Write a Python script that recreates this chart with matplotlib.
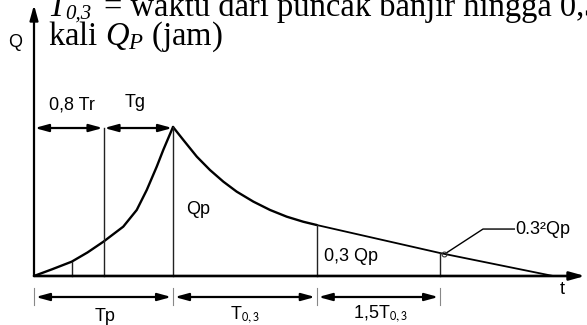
import matplotlib
matplotlib.use("Agg")
import matplotlib.pyplot as plt

# ---- data (Tp = 1, Qp = 1 units) ----
rise_t = [0.0, 0.13, 0.271, 0.385, 0.499, 0.642, 0.739, 0.811, 0.883, 0.930, 1.0]
rise_q = [0.0, 0.045, 0.096, 0.158, 0.230, 0.331, 0.443, 0.577, 0.734, 0.846, 1.0]

decay_t = [1.0, 1.074, 1.171, 1.266, 1.362, 1.458, 1.578, 1.698, 1.818, 1.937, 2.034]
decay_q = [1.0, 0.913, 0.801, 0.711, 0.633, 0.566, 0.499, 0.443, 0.398, 0.364, 0.342]

recess_t = [2.034, 2.921, 3.734]
recess_q = [0.342, 0.154, 0.0]

vert_t = [0.271, 0.5, 1.0, 2.034, 2.921]
vert_top = [0.096, 0.993, 1.0, 0.342, 0.154]

top_bounds = [0.0, 0.5, 1.0]
top_labels = ["0,8 Tr", "Tg"]
bot_bounds = [0.0, 1.0, 2.034, 2.921]
bot_labels = ["Tp", "T$_{0,3}$", "1,5T$_{0,3}$"]

plt.rcParams["mathtext.fontset"] = "custom"
plt.rcParams["mathtext.rm"] = "Liberation Serif"
plt.rcParams["mathtext.it"] = "Liberation Serif:italic"

fig = plt.figure(figsize=(5.87, 3.25), dpi=100)
ax = fig.add_axes([0, 0, 1, 1])
ax.set_xlim(-0.2446, 3.978)
ax.set_ylim(-0.3289, 1.852)
ax.axis("off")

sans = "Liberation Sans"
serif = "Liberation Serif"
lab_fs = 13

# hydrograph
ax.plot(rise_t, rise_q, color="black", lw=1.7, solid_capstyle="round")
ax.plot(decay_t, decay_q, color="black", lw=1.7, solid_capstyle="round")
ax.plot(recess_t, recess_q, color="black", lw=1.3)

# verticals
for t, q in zip(vert_t, vert_top):
    ax.plot([t, t], [0, q], color="#222222", lw=1.0)

# axes arrows
ax.annotate("", xy=(0, 1.819), xytext=(0, 0),
            arrowprops=dict(arrowstyle="-|>,head_length=0.9,head_width=0.25",
                            color="black", lw=1.6, shrinkA=0, shrinkB=0))
ax.annotate("", xy=(3.964, 0), xytext=(0, 0),
            arrowprops=dict(arrowstyle="-|>,head_length=0.9,head_width=0.25",
                            color="black", lw=1.9, shrinkA=0, shrinkB=0))

# top dimension arrows
y_top = 0.993
for a, b in zip(top_bounds[:-1], top_bounds[1:]):
    ax.annotate("", xy=(b - 0.005, y_top), xytext=(a + 0.005, y_top),
                arrowprops=dict(arrowstyle="<|-|>,head_length=0.8,head_width=0.22",
                                color="black", lw=1.6, shrinkA=0, shrinkB=0))
ax.text(0.273, 1.148, top_labels[0], fontsize=lab_fs, family=sans, ha="center", va="center")
ax.text(0.727, 1.163, top_labels[1], fontsize=lab_fs, family=sans, ha="center", va="center")

# bottom dimension arrows
y_bot = -0.141
for t in bot_bounds:
    ax.plot([t, t], [-0.08, -0.195], color="#888888", lw=0.8)
for a, b in zip(bot_bounds[:-1], bot_bounds[1:]):
    ax.annotate("", xy=(b - 0.012, y_bot), xytext=(a + 0.012, y_bot),
                arrowprops=dict(arrowstyle="<|-|>,head_length=0.8,head_width=0.22",
                                color="black", lw=1.6, shrinkA=0, shrinkB=0))
ax.text(0.511, -0.27, bot_labels[0], fontsize=lab_fs, family=sans, ha="center", va="center")
ax.text(1.518, -0.262, bot_labels[1], fontsize=lab_fs, family=sans, ha="center", va="center",
        math_fontfamily="stixsans")
ax.text(2.489, -0.255, bot_labels[2], fontsize=lab_fs, family=sans, ha="center", va="center",
        math_fontfamily="stixsans")

# curve labels
ax.text(1.18, 0.443, "Qp", fontsize=lab_fs, family=sans, ha="center", va="center")
ax.text(2.28, 0.128, "0,3 Qp", fontsize=lab_fs, family=sans, ha="center", va="center")
ax.plot([2.965, 3.230, 3.455], [0.154, 0.315, 0.315], color="black", lw=1.0)
ax.plot([2.95], [0.148], marker="o", ms=3.5, mfc="none", mec="#333333", mew=0.8)
ax.text(3.46, 0.315, "0.3²Qp", fontsize=lab_fs, family=sans, ha="left", va="center")

ax.text(3.80, -0.094, "t", fontsize=lab_fs, family=sans, ha="center", va="center")
ax.text(-0.137, 1.570, "Q", fontsize=lab_fs, family=sans, ha="center", va="center")

# top caption text (cut off at top edge as in the reference)
ax.text(0.1007, 1.745, "T", fontsize=23.5, family=serif, style="italic",
        ha="left", va="baseline")
ax.text(0.223, 1.728, "0,3", fontsize=15, family=serif, style="italic",
        ha="left", va="baseline")
ax.text(0.50, 1.745, "= waktu dari puncak banjir hingga 0,3",
        fontsize=23.5, family=serif, ha="left", va="baseline")
ax.text(0.1007, 1.550, r"kali $Q_P$ (jam)",
        fontsize=23.5, family=serif, ha="left", va="baseline")

fig.savefig("out.png", dpi=100)
